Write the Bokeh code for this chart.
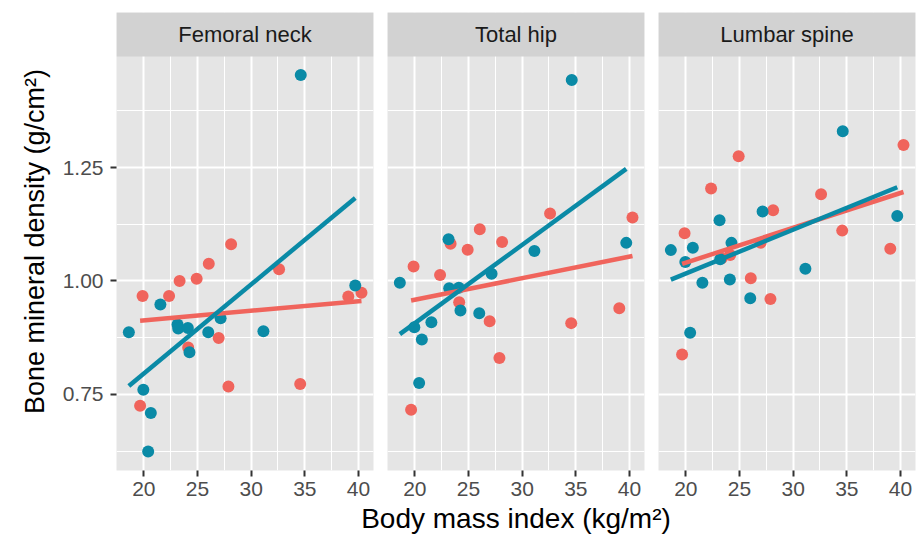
import numpy as np
from bokeh.plotting import figure
from bokeh.layouts import row, column
from bokeh.models import FixedTicker, NumeralTickFormatter, BoxAnnotation, Label, Range1d
from bokeh.embed import file_html
from bokeh.resources import INLINE

# ---------------- data ----------------
SITES = ["Femoral neck", "Total hip", "Lumbar spine"]

BMI_TEAL = [18.6, 19.95, 20.4, 20.65, 21.54, 23.14, 23.2, 24.1, 24.25, 26.0, 27.15, 31.14, 34.62, 39.7]
FN_TEAL = [0.887, 0.760, 0.624, 0.709, 0.948, 0.904, 0.895, 0.896, 0.843, 0.887, 0.918, 0.889, 1.454, 0.990]
TH_TEAL = [0.996, 0.898, 0.775, 0.871, 0.909, 1.092, 0.984, 0.985, 0.935, 0.929, 1.016, 1.066, 1.443, 1.084]
LS_TEAL = [1.068, 1.042, 0.886, 1.073, 0.996, 1.134, 1.048, 1.003, 1.084, 0.962, 1.153, 1.027, 1.330, 1.143]

BMI_RED = [19.65, 19.88, 22.35, 23.33, 24.13, 24.92, 26.05, 26.97, 27.88, 28.13, 32.6, 34.57, 39.05, 40.28]
FN_RED = [0.725, 0.967, 0.967, 1.000, 0.853, 1.005, 1.038, 0.874, 0.767, 1.081, 1.026, 0.773, 0.966, 0.974]
TH_RED = [0.716, 1.032, 1.013, 1.082, 0.953, 1.069, 1.114, 0.911, 0.830, 1.086, 1.149, 0.907, 0.940, 1.140]
LS_RED = [0.838, 1.105, 1.204, 1.050, 1.057, 1.275, 1.006, 1.084, 0.960, 1.156, 1.191, 1.111, 1.071, 1.300]

TEAL_BY_SITE = [FN_TEAL, TH_TEAL, LS_TEAL]
RED_BY_SITE = [FN_RED, TH_RED, LS_RED]

X_TICKS = [20, 25, 30, 35, 40]
X_MINOR = [22.5, 27.5, 32.5, 37.5]
Y_TICKS = [0.75, 1.00, 1.25]
Y_MINOR = [0.625, 0.875, 1.125, 1.375]
X_LIM = (17.45, 41.4)
Y_LIM = (0.582, 1.495)

X_TITLE = "Body mass index (kg/m²)"
Y_TITLE = "Bone mineral density (g/cm²)"

# ---------------- style / layout ----------------
TEAL = "#0A8AA6"
RED = "#F0645C"
PANEL = "#E5E5E5"
STRIP = "#D2D2D2"
FONT = "Liberation Sans"

LEFT = 116
GAP = 7
FRAME_W = 257
FRAME_H = 458
TOP = 12
STRIP_PX = 44
TOTAL_W = 917
y_top = Y_LIM[1] + (Y_LIM[1] - Y_LIM[0]) * STRIP_PX / (FRAME_H - STRIP_PX)


def fit_line(x, y):
    x = np.asarray(x, float)
    y = np.asarray(y, float)
    b, a = np.polyfit(x, y, 1)
    xs = np.array([x.min(), x.max()])
    return xs, a + b * xs


def facet(i):
    first = i == 0
    last = i == len(SITES) - 1
    p = figure(
        frame_width=FRAME_W, frame_height=FRAME_H,
        x_range=Range1d(*X_LIM), y_range=Range1d(Y_LIM[0], y_top),
        toolbar_location=None, output_backend="svg",
        y_axis_location="left" if first else None,
        min_border_left=LEFT if first else GAP,
        min_border_right=2 if last else GAP,
        min_border_top=TOP, min_border_bottom=0,
        outline_line_color=None,
        background_fill_color=PANEL, border_fill_color="white",
    )
    xt = FixedTicker(ticks=X_TICKS, minor_ticks=X_MINOR)
    yt = FixedTicker(ticks=Y_TICKS, minor_ticks=Y_MINOR)
    p.xaxis.ticker = xt
    p.xgrid.ticker = xt
    p.ygrid.ticker = yt
    for g in (p.xgrid, p.ygrid):
        g.grid_line_color = "white"
        g.grid_line_width = 2
        g.minor_grid_line_color = "white"
        g.minor_grid_line_width = 1

    axes = list(p.xaxis) + (list(p.yaxis) if first else [])
    for ax in axes:
        ax.axis_line_color = None
        ax.minor_tick_line_color = None
        ax.major_tick_line_color = "#333333"
        ax.major_tick_line_width = 2
        ax.major_tick_out = 6
        ax.major_tick_in = 0
        ax.major_label_text_font = FONT
        ax.major_label_text_font_size = "21px"
        ax.major_label_text_color = "#4D4D4D"
        ax.axis_label_text_font = FONT
        ax.axis_label_text_font_size = "27px"
        ax.axis_label_text_font_style = "normal"
        ax.axis_label_text_color = "black"
    p.xaxis.major_label_standoff = 5
    if first:
        p.yaxis.ticker = yt
        p.yaxis.formatter = NumeralTickFormatter(format="0.00")
        p.yaxis.axis_label = Y_TITLE
        p.yaxis.major_label_standoff = 7
        p.yaxis.axis_label_standoff = 10

    # strip header (area above the panel's y limit)
    p.add_layout(BoxAnnotation(bottom=Y_LIM[1], fill_color=STRIP, fill_alpha=1.0,
                               line_color=None, level="underlay"))
    p.add_layout(Label(x=(X_LIM[0] + X_LIM[1]) / 2, y=(Y_LIM[1] + y_top) / 2,
                       text=SITES[i], text_align="center", text_baseline="middle",
                       text_font=FONT, text_font_size="22px", text_color="#1A1A1A"))

    teal = TEAL_BY_SITE[i]
    red = RED_BY_SITE[i]
    p.scatter(BMI_RED, red, size=12, fill_color=RED, line_color=None)
    p.scatter(BMI_TEAL, teal, size=12, fill_color=TEAL, line_color=None)
    xs, ys = fit_line(BMI_RED, red)
    p.line(xs, ys, line_color=RED, line_width=4.5)
    xs, ys = fit_line(BMI_TEAL, teal)
    p.line(xs, ys, line_color=TEAL, line_width=4.5)
    return p


panels = row(*[facet(i) for i in range(len(SITES))])

# shared x-axis title, centred under the middle panel
LABEL_H = 39
lab = figure(width=TOTAL_W, height=LABEL_H, x_range=Range1d(0, TOTAL_W), y_range=Range1d(0, LABEL_H),
             toolbar_location=None, output_backend="svg", x_axis_location=None, y_axis_location=None,
             min_border=0, outline_line_color=None, background_fill_color="white",
             border_fill_color="white")
lab.grid.visible = False
lab.add_layout(Label(x=LEFT + FRAME_W + 2 * GAP + FRAME_W / 2, y=LABEL_H / 2, text=X_TITLE,
                     text_align="center", text_baseline="middle", text_font=FONT,
                     text_font_size="28px", text_color="black"))

layout = column(panels, lab)
open("out.html", "w").write(file_html(layout, INLINE))
